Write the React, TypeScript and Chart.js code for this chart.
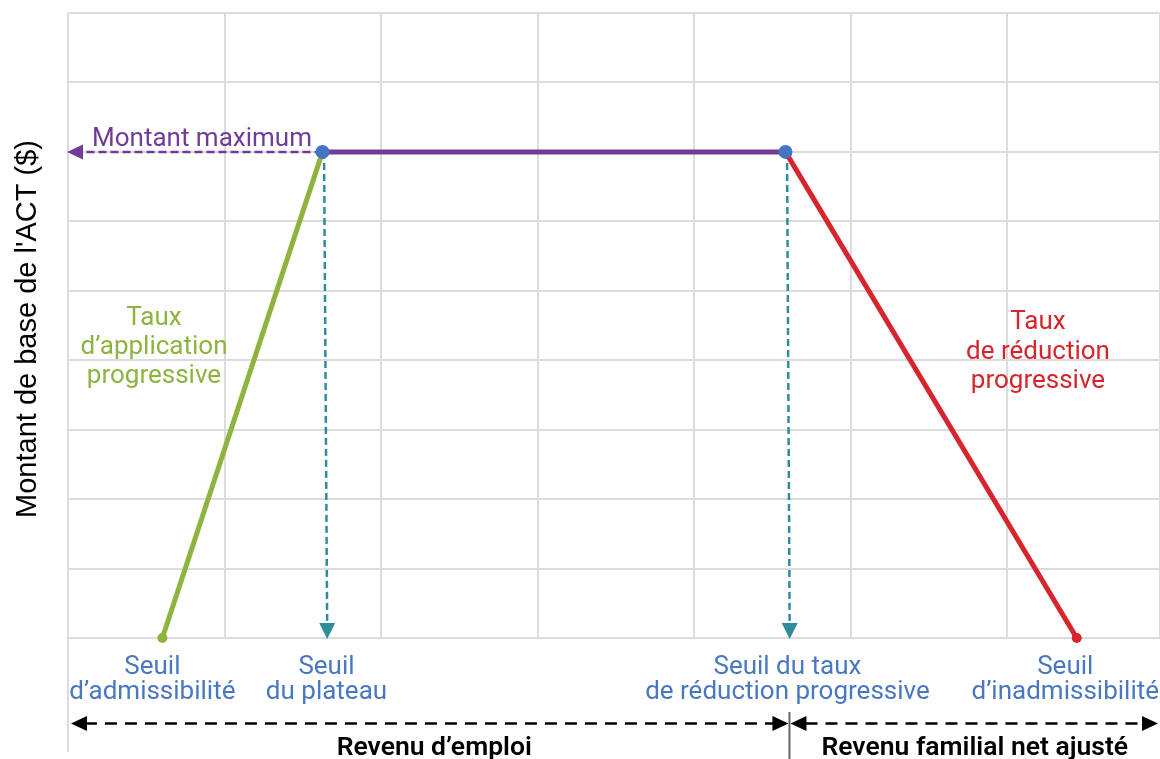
import { useEffect, useRef } from "react";
import { Chart, registerables } from "chart.js";

Chart.register(...registerables);

// ---- data (chart units: x = income steps, y = benefit steps) ----
const thresholdX = [0.603, 1.626, 4.584, 6.445];
const benefitY = [0, 7, 7, 0];
const dropArrowEndX = [1.656, 4.611];
const thresholdLabels = [
  ["Seuil", "d’admissibilité"],
  ["Seuil", "du plateau"],
  ["Seuil du taux", "de réduction progressive"],
  ["Seuil", "d’inadmissibilité"],
];
const rateLabelPhaseIn = ["Taux", "d’application", "progressive"];
const rateLabelPhaseOut = ["Taux", "de réduction", "progressive"];
const maxLabel = "Montant maximum";
const incomeLabels = ["Revenu d’emploi", "Revenu familial net ajusté"];
const yTitle = "Montant de base de l'ACT ($)";
const xMax = 6.977;
const yMax = 9;

const GREEN = "#8cb43e";
const PURPLE = "#713c98";
const RED = "#d6252d";
const BLUE = "#4574c2";
const TEAL = "#2f8c9b";
const LABEL_BLUE = "#4a78c0";
const GRID = "#dcdcdc";
const FONT = "Roboto, 'Noto Sans', sans-serif";

function arrowHead(ctx: CanvasRenderingContext2D, x: number, y: number, dir: string, len: number, half: number, color: string) {
  ctx.save();
  ctx.fillStyle = color;
  ctx.beginPath();
  ctx.moveTo(x, y);
  if (dir === "down") { ctx.lineTo(x - half, y - len); ctx.lineTo(x + half, y - len); }
  if (dir === "left") { ctx.lineTo(x + len, y - half); ctx.lineTo(x + len, y + half); }
  if (dir === "right") { ctx.lineTo(x - len, y - half); ctx.lineTo(x - len, y + half); }
  ctx.closePath();
  ctx.fill();
  ctx.restore();
}

const overlay = {
  id: "overlay",
  afterDatasetsDraw(chart: any) {
    const ctx: CanvasRenderingContext2D = chart.ctx;
    const xs = chart.scales.x;
    const ys = chart.scales.y;
    const y0 = ys.getPixelForValue(0);
    const yM = ys.getPixelForValue(benefitY[1]);
    dropArrowEndX.forEach((x) => arrowHead(ctx, xs.getPixelForValue(x), y0 + 1, "down", 16, 8, TEAL));
    arrowHead(ctx, xs.getPixelForValue(0) - 1, yM, "left", 16, 7.5, PURPLE);
  },
  afterDraw(chart: any) {
    const ctx: CanvasRenderingContext2D = chart.ctx;
    const xs = chart.scales.x;
    const ys = chart.scales.y;
    const area = chart.chartArea;
    const y0 = ys.getPixelForValue(0);
    const yM = ys.getPixelForValue(benefitY[1]);
    const W = chart.width;
    ctx.save();

    // left border extension
    ctx.strokeStyle = GRID;
    ctx.lineWidth = 2;
    ctx.beginPath();
    ctx.moveTo(area.left, y0);
    ctx.lineTo(area.left, 752);
    ctx.stroke();

    // threshold labels
    const labelShift = [-10, 4, 2, -10];
    ctx.font = `26px ${FONT}`;
    ctx.fillStyle = LABEL_BLUE;
    ctx.textAlign = "center";
    ctx.textBaseline = "alphabetic";
    thresholdLabels.forEach((lines, i) => {
      let cx = xs.getPixelForValue(thresholdX[i]) + labelShift[i];
      const wMax = Math.max(...lines.map((l) => ctx.measureText(l).width));
      if (cx + wMax / 2 > W - 1) cx = W - 1 - wMax / 2;
      lines.forEach((l, j) => ctx.fillText(l, cx, y0 + 36 + j * 25));
    });

    // rate labels
    ctx.fillStyle = GREEN;
    rateLabelPhaseIn.forEach((l, j) => ctx.fillText(l, 154, 325 + j * 29));
    ctx.fillStyle = RED;
    rateLabelPhaseOut.forEach((l, j) => ctx.fillText(l, 1038, 329 + j * 29.5));

    // maximum label
    ctx.fillStyle = PURPLE;
    ctx.textAlign = "left";
    ctx.fillText(maxLabel, 92, yM - 6);

    // income range arrows
    const ay = 723.5;
    const xL = xs.getPixelForValue(0) + 3;
    const xMid = xs.getPixelForValue(thresholdX[2]) + 4;
    const xR = W - 2;
    ctx.strokeStyle = "#000";
    ctx.lineWidth = 2.5;
    ctx.setLineDash([12, 8]);
    ctx.beginPath();
    ctx.moveTo(xL + 14, ay);
    ctx.lineTo(xMid - 16, ay);
    ctx.moveTo(xMid + 16, ay);
    ctx.lineTo(xR - 14, ay);
    ctx.stroke();
    ctx.setLineDash([]);
    arrowHead(ctx, xL, ay, "left", 16, 7.5, "#000");
    arrowHead(ctx, xMid - 1, ay, "right", 16, 7.5, "#000");
    arrowHead(ctx, xMid + 1, ay, "left", 16, 7.5, "#000");
    arrowHead(ctx, xR, ay, "right", 16, 7.5, "#000");
    ctx.strokeStyle = "#666";
    ctx.lineWidth = 2;
    ctx.beginPath();
    ctx.moveTo(xMid, 712);
    ctx.lineTo(xMid, 759);
    ctx.stroke();

    ctx.fillStyle = "#000";
    ctx.textAlign = "center";
    ctx.font = `600 26.5px ${FONT}`;
    ctx.fillText(incomeLabels[0], (xL + xMid) / 2 + 4, 755);
    ctx.fillText(incomeLabels[1], (xMid + xR) / 2 + 1, 755);

    // y title
    ctx.save();
    ctx.translate(36, 329);
    ctx.rotate(-Math.PI / 2);
    ctx.font = `29px 'Liberation Sans', Arial, sans-serif`;
    ctx.fillStyle = "#000";
    ctx.textAlign = "center";
    ctx.fillText(yTitle, 0, 0);
    ctx.restore();

    ctx.restore();
  },
};

export default function App() {
  const ref = useRef<HTMLCanvasElement>(null);
  useEffect(() => {
    document.body.style.margin = "0";
    const pts = thresholdX.map((x, i) => ({ x, y: benefitY[i] }));
    const chart = new Chart(ref.current!, {
      type: "line",
      data: {
        datasets: [
          {
            data: [pts[1], pts[2]],
            showLine: false,
            pointRadius: 7,
            pointBackgroundColor: BLUE,
            pointBorderWidth: 0,
            clip: false,
          },
          {
            data: [pts[0], pts[1]],
            borderColor: GREEN,
            borderWidth: 5,
            pointRadius: [5, 0],
            pointBackgroundColor: GREEN,
            pointBorderWidth: 0,
            clip: false,
          },
          {
            data: [pts[1], pts[2]],
            borderColor: PURPLE,
            borderWidth: 5,
            pointRadius: 0,
            clip: false,
          },
          {
            data: [pts[2], pts[3]],
            borderColor: RED,
            borderWidth: 5,
            pointRadius: [0, 5],
            pointBackgroundColor: RED,
            pointBorderWidth: 0,
            clip: false,
          },
          {
            data: [{ x: thresholdX[1] + 0.01, y: benefitY[1] }, { x: dropArrowEndX[0], y: 0.15 }],
            borderColor: TEAL,
            borderWidth: 2.5,
            borderDash: [7, 4],
            pointRadius: 0,
          },
          {
            data: [{ x: thresholdX[2] + 0.01, y: benefitY[2] }, { x: dropArrowEndX[1], y: 0.15 }],
            borderColor: TEAL,
            borderWidth: 2.5,
            borderDash: [7, 4],
            pointRadius: 0,
          },
          {
            data: [{ x: thresholdX[1], y: benefitY[1] }, { x: 0.1, y: benefitY[1] }],
            borderColor: PURPLE,
            borderWidth: 2.5,
            borderDash: [8, 4],
            pointRadius: 0,
          },
        ],
      },
      options: {
        animation: false,
        responsive: false,
        layout: { autoPadding: false, padding: { left: 68, top: 13, right: 0, bottom: 121 } },
        plugins: { legend: { display: false }, tooltip: { enabled: false } },
        scales: {
          x: {
            type: "linear",
            min: 0,
            max: xMax,
            ticks: { display: false, stepSize: 1 },
            grid: { color: GRID, lineWidth: 2, drawTicks: false },
            border: { display: false },
            afterFit: (s: any) => { s.height = 0; },
          },
          y: {
            min: 0,
            max: yMax,
            ticks: { display: false, stepSize: 1 },
            grid: { color: GRID, lineWidth: 2, drawTicks: false },
            border: { display: false },
            afterFit: (s: any) => { s.width = 0; },
          },
        },
      },
      plugins: [overlay],
    });
    return () => chart.destroy();
  }, []);
  return (
    <div style={{ position: "absolute", left: 0, top: 0, width: 1160, height: 759 }}>
      <canvas ref={ref} width={1160} height={759} style={{ width: 1160, height: 759 }} />
    </div>
  );
}
